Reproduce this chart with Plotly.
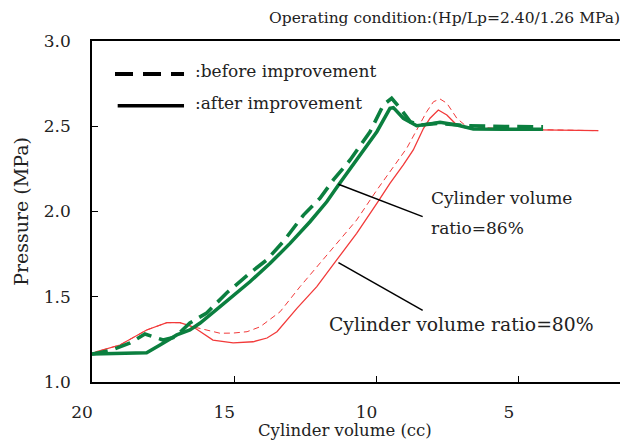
import plotly.graph_objects as go

# cylinder volume ratio 86 %, after improvement (thick solid green)
vol_86_after = [20.0, 19.2, 18.08, 17.61, 17.02, 16.56, 16.20, 15.50, 14.45, 13.74, 13.04, 12.34,
                11.75, 11.34, 10.70, 9.99, 9.53, 9.41, 9.06, 8.59, 8.24, 7.77, 7.18, 6.60, 5.5, 4.15]
p_86_after = [1.164, 1.166, 1.172, 1.217, 1.276, 1.305, 1.346, 1.442, 1.588, 1.696, 1.813, 1.940,
              2.057, 2.155, 2.302, 2.468, 2.605, 2.609, 2.547, 2.503, 2.511, 2.523, 2.507, 2.484, 2.482, 2.482]

# cylinder volume ratio 86 %, before improvement (thick dashed green)
vol_86_before = [20.0, 19.37, 18.66, 18.14, 17.50, 17.08, 16.56, 15.97, 15.27, 14.45, 13.86, 13.28,
                 12.57, 11.99, 11.52, 10.93, 10.23, 9.76, 9.47, 9.17, 8.82, 8.47, 7.88, 7.30, 6.83, 5.5, 4.15]
p_86_before = [1.164, 1.184, 1.229, 1.282, 1.246, 1.264, 1.346, 1.405, 1.522, 1.639, 1.716, 1.823,
               1.979, 2.077, 2.185, 2.302, 2.468, 2.625, 2.664, 2.605, 2.527, 2.507, 2.517, 2.511, 2.503, 2.498, 2.497]

# cylinder volume ratio 80 %, after improvement (thin solid red)
vol_80_after = [20.0, 19.83, 19.02, 18.08, 17.37, 16.91, 16.45, 15.75, 15.04, 14.34, 13.85, 13.50,
                12.80, 12.10, 11.40, 10.70, 9.99, 9.53, 9.06, 8.71, 8.35, 8.12, 7.83, 7.53, 7.18, 6.83,
                5.0, 2.21]
p_80_after = [1.164, 1.178, 1.217, 1.305, 1.348, 1.348, 1.324, 1.246, 1.230, 1.236, 1.258, 1.295,
              1.432, 1.559, 1.716, 1.872, 2.048, 2.165, 2.273, 2.361, 2.488, 2.547, 2.595, 2.566, 2.507, 2.488,
              2.480, 2.474]

# cylinder volume ratio 80 %, before improvement (thin dashed red)
vol_80_before = [20.0, 19.83, 19.02, 18.08, 17.37, 16.91, 16.45, 15.97, 15.50, 15.04, 14.55, 14.09,
                 13.39, 12.69, 11.99, 11.28, 10.70, 9.99, 9.29, 8.94, 8.59, 8.24, 8.00, 7.77, 7.53, 7.18,
                 6.83, 5.0, 2.21]
p_80_before = [1.164, 1.178, 1.217, 1.305, 1.348, 1.348, 1.324, 1.305, 1.286, 1.287, 1.295, 1.324,
               1.412, 1.559, 1.696, 1.833, 1.950, 2.126, 2.292, 2.371, 2.478, 2.585, 2.644, 2.660, 2.635, 2.547,
               2.497, 2.482, 2.474]

x_ticks = [20, 15, 10, 5]
y_ticks = [1.0, 1.5, 2.0, 2.5, 3.0]

GREEN = "#0b7f3f"
RED = "#f23a3a"
FONT = "DejaVu Serif"
INK = "#222"

fig = go.Figure()
fig.add_trace(go.Scatter(x=vol_80_before, y=p_80_before, mode="lines",
                         line=dict(color=RED, width=1, dash="6px,4px")))
fig.add_trace(go.Scatter(x=vol_80_after, y=p_80_after, mode="lines",
                         line=dict(color=RED, width=1.3)))
fig.add_trace(go.Scatter(x=vol_86_before, y=p_86_before, mode="lines",
                         line=dict(color=GREEN, width=3.6, dash="16px,8px")))
fig.add_trace(go.Scatter(x=vol_86_after, y=p_86_after, mode="lines",
                         line=dict(color=GREEN, width=3.5)))

# legend samples and pointer lines
fig.add_shape(type="line", xref="paper", yref="paper", x0=0.043, x1=0.172, y0=0.903, y1=0.903,
              line=dict(color="black", width=4, dash="18px,10px"))
fig.add_shape(type="line", xref="paper", yref="paper", x0=0.048, x1=0.172, y0=0.81, y1=0.81,
              line=dict(color="black", width=3.5))
fig.add_shape(type="line", x0=11.34, y0=2.16, x1=8.38, y1=1.97, line=dict(color="black", width=1.5))
fig.add_shape(type="line", x0=11.34, y0=1.70, x1=8.38, y1=1.42, line=dict(color="black", width=1.5))

ann = dict(showarrow=False, font=dict(family=FONT, size=17, color=INK), xanchor="left")
fig.add_annotation(x=0.188, y=0.947, xref="paper", yref="paper", text=":before improvement", **ann)
fig.add_annotation(x=0.188, y=0.854, xref="paper", yref="paper", text=":after improvement", **ann)
fig.add_annotation(x=8.15, y=2.08, text="Cylinder volume", **ann)
fig.add_annotation(x=8.15, y=1.905, text="ratio=86%", **ann)
ann["font"] = dict(family=FONT, size=18.8, color=INK)
fig.add_annotation(x=11.75, y=1.335, text="Cylinder volume ratio=80%", **ann)
fig.add_annotation(x=0.991, y=1.1, xref="paper", yref="paper", xanchor="right", showarrow=False,
                   text="Operating condition:(Hp/Lp=2.40/1.26 MPa)",
                   font=dict(family=FONT, size=15.5, color=INK))
fig.add_annotation(x=0.473, y=-0.141, xref="paper", yref="paper", yanchor="middle", showarrow=False,
                   text="Cylinder volume (cc)", font=dict(family=FONT, size=16.5, color=INK))

axis_style = dict(showgrid=False, zeroline=False, showline=True, linecolor="black", linewidth=1.5,
                  mirror=True, ticks="inside", ticklen=6, tickcolor="black", automargin=False,
                  tickfont=dict(family=FONT, size=17, color=INK))
fig.update_xaxes(range=[20, 1.2], tickvals=x_ticks, ticktext=[str(v) for v in x_ticks],
                 ticklabelshift=10, ticklabelstandoff=14, **axis_style)
fig.update_yaxes(range=[1.0, 3.0], tickvals=y_ticks, tickformat=".1f", ticklabelstandoff=16,
                 title=dict(text="Pressure (MPa)", font=dict(family=FONT, size=19, color=INK),
                            standoff=10),
                 **axis_style)
# the page body keeps its default 8px margin, so the figure is shrunk by that much
fig.update_layout(width=620, height=435, showlegend=False, plot_bgcolor="white", paper_bgcolor="white",
                  margin=dict(l=84, r=1, t=33, b=61))

fig.write_html("out.html")
